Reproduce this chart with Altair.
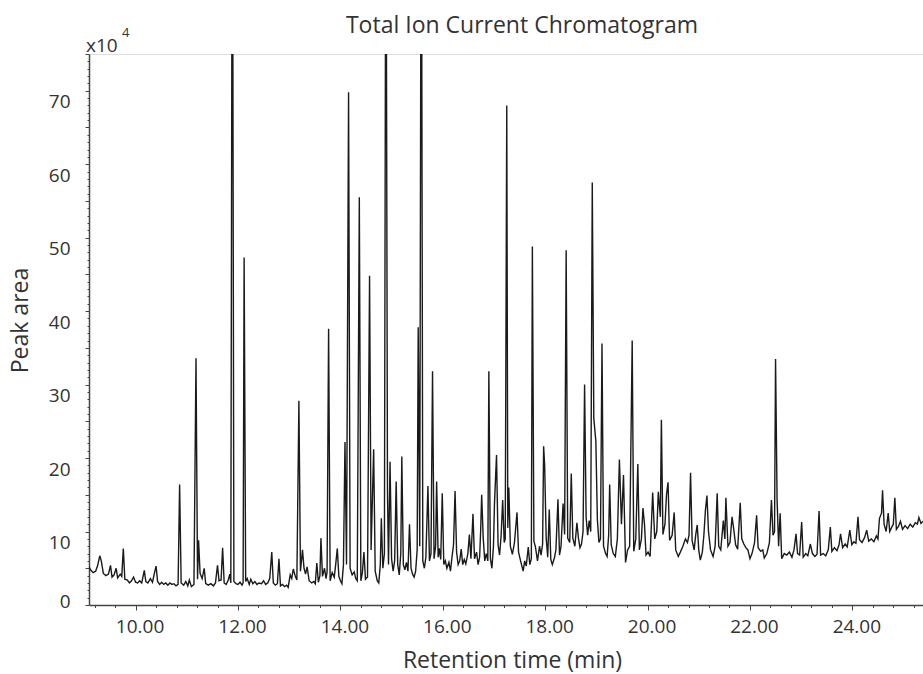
import altair as alt
import pandas as pd

# ---- data: (retention time [min], peak area [x10^4]) ----
SEG_09_11 = [
    (9.09, 5.2), (9.12, 4.8), (9.17, 4.4), (9.22, 4.6), (9.26, 5.4), (9.30, 6.7), (9.33, 6.0),
    (9.37, 4.3), (9.42, 4.0), (9.47, 4.2), (9.51, 5.4), (9.54, 3.8), (9.58, 4.1), (9.62, 5.0),
    (9.65, 3.7), (9.70, 4.2), (9.73, 3.9), (9.76, 7.7), (9.79, 3.5), (9.84, 3.4), (9.88, 3.0),
    (9.92, 3.3), (9.96, 3.8), (10.00, 3.1), (10.04, 3.0), (10.08, 3.3), (10.12, 3.0), (10.17, 4.7),
    (10.20, 3.2), (10.24, 3.0), (10.29, 3.6), (10.33, 3.1), (10.37, 4.4), (10.40, 5.3), (10.43, 3.2),
    (10.47, 2.8), (10.51, 3.1), (10.55, 2.8), (10.59, 3.0), (10.63, 2.7), (10.67, 3.0), (10.71, 2.8),
    (10.75, 2.9), (10.79, 2.6), (10.83, 2.8), (10.86, 16.4), (10.89, 3.0), (10.94, 2.7), (10.98, 3.2),
]
SEG_11_13 = [
    (11.02, 2.6), (11.05, 3.4), (11.09, 2.5), (11.14, 2.8), (11.18, 33.6), (11.21, 3.5), (11.23, 8.8),
    (11.26, 4.3), (11.30, 3.6), (11.34, 5.0), (11.37, 2.9), (11.42, 2.7), (11.47, 2.9), (11.52, 2.6),
    (11.56, 3.0), (11.60, 5.4), (11.63, 3.3), (11.67, 3.4), (11.70, 7.8), (11.73, 3.0), (11.77, 2.8),
    (11.81, 3.4), (11.84, 4.2), (11.86, 3.0), (11.88, 76.0), (11.90, 76.0), (11.92, 3.2), (11.96, 2.9),
    (12.00, 2.8), (12.04, 3.1), (12.08, 2.7), (12.10, 3.0), (12.12, 47.3), (12.15, 3.2), (12.18, 3.6),
    (12.22, 2.8), (12.25, 3.5), (12.29, 2.9), (12.33, 3.2), (12.37, 2.8), (12.41, 3.0), (12.46, 2.9),
    (12.50, 3.3), (12.54, 2.8), (12.58, 3.0), (12.62, 3.6), (12.66, 7.2), (12.69, 3.0), (12.73, 2.7),
    (12.77, 2.9), (12.80, 6.3), (12.83, 2.6), (12.87, 2.8), (12.91, 2.5), (12.95, 2.7), (12.98, 2.4),
]
SEG_13_15 = [
    (13.02, 4.1), (13.05, 3.6), (13.08, 4.9), (13.12, 3.9), (13.15, 3.4), (13.19, 27.8), (13.22, 4.6),
    (13.26, 7.5), (13.29, 5.0), (13.32, 4.2), (13.35, 5.2), (13.39, 3.3), (13.44, 3.0), (13.48, 3.2),
    (13.51, 2.9), (13.54, 5.7), (13.57, 3.1), (13.60, 4.0), (13.62, 9.1), (13.65, 3.9), (13.69, 5.0),
    (13.72, 3.6), (13.74, 4.5), (13.77, 37.6), (13.80, 3.3), (13.84, 4.4), (13.88, 3.8), (13.91, 5.6),
    (13.94, 7.7), (13.97, 3.9), (14.00, 3.3), (14.03, 2.9), (14.06, 5.5), (14.09, 22.2), (14.12, 5.5),
    (14.16, 69.8), (14.19, 5.0), (14.23, 4.1), (14.27, 4.5), (14.30, 3.6), (14.33, 3.3), (14.37, 55.5),
    (14.40, 3.3), (14.43, 4.4), (14.46, 7.2), (14.49, 3.5), (14.53, 3.8), (14.57, 44.8), (14.60, 7.5),
    (14.65, 21.2), (14.68, 4.6), (14.72, 3.3), (14.75, 3.0), (14.78, 5.5), (14.80, 11.8), (14.83, 5.0),
    (14.86, 7.0), (14.88, 76.0), (14.90, 76.0), (14.92, 15.5), (14.94, 5.5), (14.97, 19.5),
]
SEG_15_17 = [
    (15.00, 6.3), (15.03, 4.6), (15.06, 6.0), (15.09, 16.8), (15.12, 5.5), (15.15, 4.1), (15.18, 7.0),
    (15.20, 20.2), (15.23, 5.5), (15.26, 4.8), (15.29, 5.8), (15.32, 4.6), (15.35, 11.0), (15.38, 5.0),
    (15.41, 4.2), (15.44, 3.8), (15.47, 4.6), (15.50, 7.5), (15.52, 37.8), (15.55, 8.0), (15.57, 76.0),
    (15.59, 76.0), (15.61, 6.0), (15.64, 5.0), (15.67, 6.5), (15.71, 16.2), (15.74, 6.0), (15.77, 7.0),
    (15.80, 31.8), (15.83, 6.3), (15.86, 8.0), (15.88, 16.8), (15.91, 6.5), (15.93, 7.7), (15.96, 6.2),
    (15.99, 15.2), (16.02, 5.5), (16.05, 6.0), (16.08, 5.0), (16.12, 5.8), (16.15, 4.6), (16.18, 6.5),
    (16.21, 8.2), (16.24, 15.5), (16.27, 7.2), (16.30, 5.5), (16.33, 6.0), (16.36, 7.6), (16.39, 5.5),
    (16.42, 6.2), (16.45, 5.6), (16.49, 7.0), (16.52, 9.6), (16.55, 6.3), (16.59, 12.4), (16.62, 6.3),
    (16.66, 7.2), (16.69, 5.5), (16.72, 6.5), (16.74, 10.1), (16.76, 15.0), (16.79, 9.1), (16.82, 6.0),
    (16.85, 7.0), (16.88, 6.0), (16.90, 31.8), (16.93, 6.3), (16.96, 5.0), (16.99, 8.0),
]
SEG_17_19 = [
    (17.01, 13.8), (17.05, 20.4), (17.08, 8.2), (17.11, 6.8), (17.14, 9.5), (17.17, 14.3), (17.20, 8.5),
    (17.22, 9.0), (17.25, 68.0), (17.27, 10.5), (17.29, 16.0), (17.32, 8.0), (17.36, 6.9), (17.40, 8.5),
    (17.45, 12.6), (17.48, 7.2), (17.52, 6.0), (17.57, 4.6), (17.60, 6.0), (17.63, 5.3), (17.67, 7.9),
    (17.70, 5.5), (17.73, 6.3), (17.75, 48.8), (17.78, 8.7), (17.81, 7.9), (17.85, 6.0), (17.89, 8.0),
    (17.92, 6.8), (17.95, 8.3), (17.97, 21.6), (17.99, 19.0), (18.02, 9.1), (18.05, 6.5), (18.08, 13.0),
    (18.11, 6.2), (18.14, 5.5), (18.18, 6.4), (18.21, 7.5), (18.25, 14.4), (18.28, 6.8), (18.31, 8.0),
    (18.35, 13.8), (18.38, 9.6), (18.41, 48.3), (18.44, 9.1), (18.48, 8.5), (18.51, 17.9), (18.54, 9.1),
    (18.58, 8.0), (18.62, 11.2), (18.65, 9.1), (18.68, 7.8), (18.71, 8.3), (18.74, 10.0), (18.77, 30.0),
    (18.80, 11.9), (18.83, 9.5), (18.86, 11.5), (18.89, 10.0), (18.92, 57.5), (18.95, 25.4), (18.99, 22.3),
]
SEG_19_21 = [
    (19.02, 11.6), (19.05, 8.5), (19.08, 9.0), (19.11, 35.6), (19.14, 8.0), (19.18, 7.0), (19.21, 6.6),
    (19.24, 9.5), (19.26, 16.4), (19.29, 8.2), (19.33, 7.0), (19.37, 6.6), (19.41, 9.0), (19.45, 19.8),
    (19.49, 11.0), (19.53, 17.7), (19.57, 5.8), (19.61, 7.5), (19.65, 8.0), (19.70, 36.0), (19.73, 7.3),
    (19.77, 9.0), (19.81, 19.2), (19.84, 7.5), (19.88, 9.0), (19.91, 13.2), (19.94, 11.0), (19.97, 6.8),
    (20.01, 7.2), (20.05, 6.6), (20.10, 15.3), (20.14, 9.0), (20.18, 10.0), (20.21, 15.4), (20.25, 12.0),
    (20.27, 25.2), (20.30, 9.6), (20.34, 11.0), (20.37, 15.0), (20.40, 16.7), (20.43, 8.8), (20.48, 9.5),
    (20.52, 12.6), (20.55, 7.5), (20.60, 6.6), (20.64, 7.2), (20.69, 8.0), (20.74, 9.0), (20.78, 8.5),
    (20.81, 9.5), (20.84, 18.0), (20.87, 8.8), (20.91, 7.5), (20.94, 9.5), (20.97, 10.9),
]
SEG_21_23 = [
    (21.00, 7.5), (21.03, 6.1), (21.07, 7.2), (21.10, 9.5), (21.13, 12.9), (21.16, 14.9), (21.19, 10.0),
    (21.23, 7.5), (21.28, 6.6), (21.32, 8.0), (21.36, 15.2), (21.39, 8.0), (21.43, 7.5), (21.48, 11.5),
    (21.51, 9.0), (21.53, 14.6), (21.57, 8.0), (21.61, 8.5), (21.65, 12.0), (21.68, 10.5), (21.72, 8.2),
    (21.76, 7.6), (21.81, 13.9), (21.84, 9.0), (21.88, 8.3), (21.92, 7.8), (21.96, 7.5), (22.00, 6.3),
    (22.04, 7.0), (22.09, 8.5), (22.13, 12.2), (22.16, 7.8), (22.21, 7.3), (22.25, 7.5), (22.28, 6.4),
    (22.33, 7.0), (22.38, 8.5), (22.42, 14.3), (22.45, 9.5), (22.48, 10.0), (22.50, 33.5), (22.53, 14.3),
    (22.56, 8.0), (22.59, 12.5), (22.62, 6.3), (22.67, 7.0), (22.72, 6.8), (22.77, 7.2), (22.82, 6.5),
    (22.86, 7.5), (22.90, 9.7), (22.93, 7.0), (22.97, 6.8),
]
SEG_23_25 = [
    (23.01, 11.3), (23.04, 6.5), (23.09, 7.0), (23.13, 6.7), (23.18, 8.3), (23.22, 7.0), (23.27, 6.6),
    (23.31, 6.9), (23.35, 12.8), (23.38, 6.8), (23.43, 7.0), (23.48, 6.7), (23.53, 7.5), (23.57, 10.6),
    (23.60, 7.3), (23.65, 7.8), (23.70, 7.4), (23.74, 8.2), (23.77, 9.7), (23.81, 7.8), (23.86, 8.3),
    (23.90, 7.9), (23.95, 10.2), (23.99, 8.2), (24.03, 8.6), (24.07, 8.4), (24.11, 12.0), (24.14, 8.9),
    (24.19, 8.5), (24.24, 9.2), (24.28, 10.2), (24.32, 8.7), (24.37, 9.0), (24.42, 8.6), (24.47, 9.4),
    (24.50, 9.0), (24.53, 11.8), (24.57, 12.5), (24.59, 15.6), (24.62, 11.0), (24.66, 10.0), (24.70, 12.5),
    (24.73, 10.0), (24.77, 10.6), (24.80, 11.0), (24.83, 14.6), (24.86, 10.3), (24.90, 10.7), (24.94, 11.4),
    (24.98, 10.3), (25.03, 10.8), (25.08, 10.4), (25.13, 11.0), (25.18, 10.6), (25.23, 11.2), (25.27, 11.0),
    (25.30, 11.9), (25.34, 11.1), (25.38, 11.4),
]

X_TICKS = [round(9.2 + 0.4 * i, 1) for i in range(41)]   # minor every 0.4 min, labelled every 2 min
Y_TICKS = list(range(0, 76))                              # minor every 1, labelled every 10
X_DOMAIN = [9.09, 25.38]
Y_DOMAIN = [0, 75]

TITLE = "Total Ion Current Chromatogram"
X_TITLE = "Retention time (min)"
Y_TITLE = "Peak area"
SCALE_TEXT = "x10"
SCALE_EXP = "4"

FONT = "Open Sans"
TXT = "#333333"
AXC = "#444444"

rows = [p for seg in (SEG_09_11, SEG_11_13, SEG_13_15, SEG_15_17, SEG_17_19,
                      SEG_19_21, SEG_21_23, SEG_23_25) for p in seg]
df = pd.DataFrame(rows, columns=["rt", "area"])

x_axis = alt.Axis(
    values=X_TICKS,
    title=X_TITLE,
    labelExpr="datum.value % 2 == 0 ? format(datum.value, '.2f') : ''",
    labelFont=FONT, labelFontSize=19, labelColor=TXT, labelPadding=7, labelOffset=4,
    labelOverlap=False, labelFlush=False,
    tickSize={"condition": {"test": "datum.value % 2 == 0", "value": 5}, "value": 2.5},
    tickColor=AXC, tickWidth=1,
    domainColor=AXC, domainWidth=1.5,
    grid=False,
    titleFont=FONT, titleFontSize=23, titleFontWeight="normal", titleColor=TXT,
    titleX=423, titleY=62, titleBaseline="alphabetic", titleAlign="center",
)
y_axis = alt.Axis(
    values=Y_TICKS,
    title=Y_TITLE,
    format="d",
    labelExpr="datum.value % 10 == 0 ? datum.label : ''",
    labelFont=FONT, labelFontSize=19, labelColor=TXT, labelPadding=15, labelOffset=2,
    labelBaseline={"condition": {"test": "datum.value == 0", "value": "alphabetic"}, "value": "top"},
    labelOverlap=False, labelFlush=False,
    tickSize={"condition": {"test": "datum.value % 5 == 0", "value": 4}, "value": 2},
    tickColor=AXC, tickWidth=1,
    domainColor=AXC, domainWidth=1.5,
    grid=False,
    titleFont=FONT, titleFontSize=23, titleFontWeight="normal", titleColor=TXT,
    titleAngle=270, titleX=-62, titleY=266, titleBaseline="alphabetic", titleAlign="center",
)

line = alt.Chart(df).mark_line(color="#1a1a1a", strokeWidth=1.4, clip=True).encode(
    x=alt.X("rt:Q", scale=alt.Scale(domain=X_DOMAIN, nice=False, zero=False), axis=x_axis),
    y=alt.Y("area:Q", scale=alt.Scale(domain=Y_DOMAIN, nice=False), axis=y_axis),
    order="rt:Q",
)

title_txt = alt.Chart(pd.DataFrame({"t": [TITLE]})).mark_text(
    font=FONT, fontSize=23, color=TXT, align="center", baseline="alphabetic"
).encode(text="t:N", x=alt.value(433), y=alt.value(-21))

scale_txt = alt.Chart(pd.DataFrame({"t": [SCALE_TEXT]})).mark_text(
    font=FONT, fontSize=19, color=TXT, align="left", baseline="alphabetic"
).encode(text="t:N", x=alt.value(-3), y=alt.value(-2))

scale_exp = alt.Chart(pd.DataFrame({"t": [SCALE_EXP]})).mark_text(
    font=FONT, fontSize=13, color=TXT, align="left", baseline="alphabetic"
).encode(text="t:N", x=alt.value(33), y=alt.value(-17))

chart = alt.layer(line, title_txt, scale_txt, scale_exp).properties(
    width=834,
    height=551,
    autosize=alt.AutoSizeParams(type="none"),
    padding={"left": 89, "top": 54, "right": 0, "bottom": 69},
).configure_view(stroke=None).configure(background="white")

chart.save("out.html", embed_options={"renderer": "svg", "actions": False})
